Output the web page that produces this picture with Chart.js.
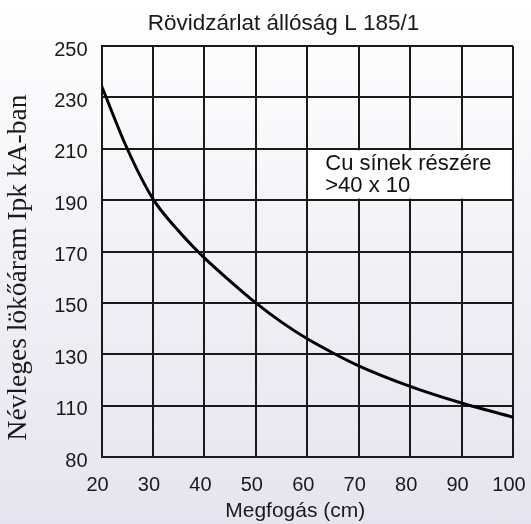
<!DOCTYPE html>
<html><head><meta charset="utf-8">
<script src="https://cdn.jsdelivr.net/npm/chart.js@4"></script>
<style>
html,body{margin:0;padding:0;}
body{width:531px;height:524px;background:linear-gradient(to bottom,#ffffff 0%,#f3f2f7 45%,#e6e4ee 100%);overflow:hidden;}
canvas{display:block;}
</style></head><body>
<canvas id="c" width="531" height="524"></canvas>
<script>
const chartTitle = 'Rövidzárlat állóság L 185/1';
const xAxisTitle = 'Megfogás (cm)';
const yAxisTitle = 'Névleges lökőáram Ipk kA-ban';
const noteLines = ['Cu sínek részére', '>40 x 10'];

const megfogas = [20, 25, 30, 35, 40, 45, 50, 55, 60, 65, 70, 80, 90, 100];
const ipk = [234.5, 210, 190.5, 178, 167.5, 158.5, 150, 142.5, 136, 130.5, 125.5, 117.5, 111, 105.5];

const xTickValues = [20, 30, 40, 50, 60, 70, 80, 90, 100];
const yTickValues = [90, 110, 130, 150, 170, 190, 210, 230, 250];
const yTickLabels = ['80', '110', '130', '150', '170', '190', '210', '230', '250'];

const noteBoxX = [60, 100];
const noteBoxY = [210, 190];

const SANS = '"Liberation Sans", Arial, Helvetica, sans-serif';
const SERIF = '"Liberation Serif", "Times New Roman", serif';
const INK = '#1a1a1a';

const notePlugin = {
  id: 'note',
  beforeDatasetsDraw(chart) {
    const {ctx, scales: {x, y}} = chart;
    const l = x.getPixelForValue(noteBoxX[0]), r = x.getPixelForValue(noteBoxX[1]);
    const t = y.getPixelForValue(noteBoxY[0]), b = y.getPixelForValue(noteBoxY[1]);
    ctx.save();
    ctx.fillStyle = '#ffffff';
    ctx.fillRect(l + 1.5, t + 1.5, r - l - 3, b - t - 3);
    ctx.fillStyle = '#111111';
    ctx.font = '22px ' + SANS;
    ctx.textBaseline = 'alphabetic';
    ctx.textAlign = 'left';
    ctx.fillText(noteLines[0], l + 18, t + 21.5);
    ctx.fillText(noteLines[1], l + 18, t + 43.5);
    ctx.restore();
  }
};

const titleNudge = {
  id: 'titleNudge',
  afterLayout(chart) {
    if (chart.titleBlock) chart.titleBlock.left += 36;
    const nudge = (s, dx, dy) => {
      if (!s || s._nudged) return;
      s._nudged = true;
      const orig = s.drawTitle.bind(s);
      s.drawTitle = function () {
        const c = this.ctx;
        c.save(); c.translate(dx, dy); orig(); c.restore();
      };
    };
    nudge(chart.scales.x, -12, 0);
    nudge(chart.scales.y, 0, 16);
  }
};

new Chart(document.getElementById('c'), {
  type: 'line',
  data: {
    datasets: [{
      data: megfogas.map((v, i) => ({x: v, y: ipk[i]})),
      borderColor: '#000000',
      borderWidth: 3,
      pointRadius: 0,
      fill: false,
      cubicInterpolationMode: 'monotone'
    }]
  },
  plugins: [notePlugin, titleNudge],
  options: {
    responsive: false,
    devicePixelRatio: 1,
    animation: false,
    layout: {padding: {left: 0, right: 0, top: 0, bottom: 0}},
    plugins: {
      legend: {display: false},
      tooltip: {enabled: false},
      title: {
        display: true,
        text: chartTitle,
        color: INK,
        font: {family: SANS, size: 22.5, weight: 'normal'},
        padding: {top: 10.5, bottom: 8.5}
      }
    },
    scales: {
      x: {
        type: 'linear',
        min: 20, max: 100,
        afterBuildTicks: s => { s.ticks = xTickValues.map(v => ({value: v})); },
        afterFit: s => { s.height = 67; s.paddingRight = 18; s.paddingLeft = 0; },
        grid: {color: INK, lineWidth: 2, drawTicks: false},
        border: {color: INK, width: 2},
        ticks: {padding: 16, labelOffset: -4, color: INK, autoSkip: false, maxRotation: 0,
                font: {family: SANS, size: 20}},
        title: {display: true, text: xAxisTitle, color: INK,
                font: {family: SANS, size: 21}, padding: {top: 2, bottom: 0}}
      },
      y: {
        type: 'linear',
        min: 90, max: 250,
        afterBuildTicks: s => { s.ticks = yTickValues.map(v => ({value: v})); },
        afterFit: s => { s.width = 101.5; },
        grid: {color: INK, lineWidth: 2, drawTicks: false},
        border: {color: INK, width: 2},
        ticks: {padding: 14, labelOffset: 4, color: INK, autoSkip: false,
                font: {family: SANS, size: 20},
                callback: (v) => yTickLabels[yTickValues.indexOf(v)]},
        title: {display: true, text: yAxisTitle, color: INK,
                font: {family: SERIF, size: 27.5}, padding: {top: 2.5, bottom: 0}}
      }
    }
  }
});
</script>
</body></html>
